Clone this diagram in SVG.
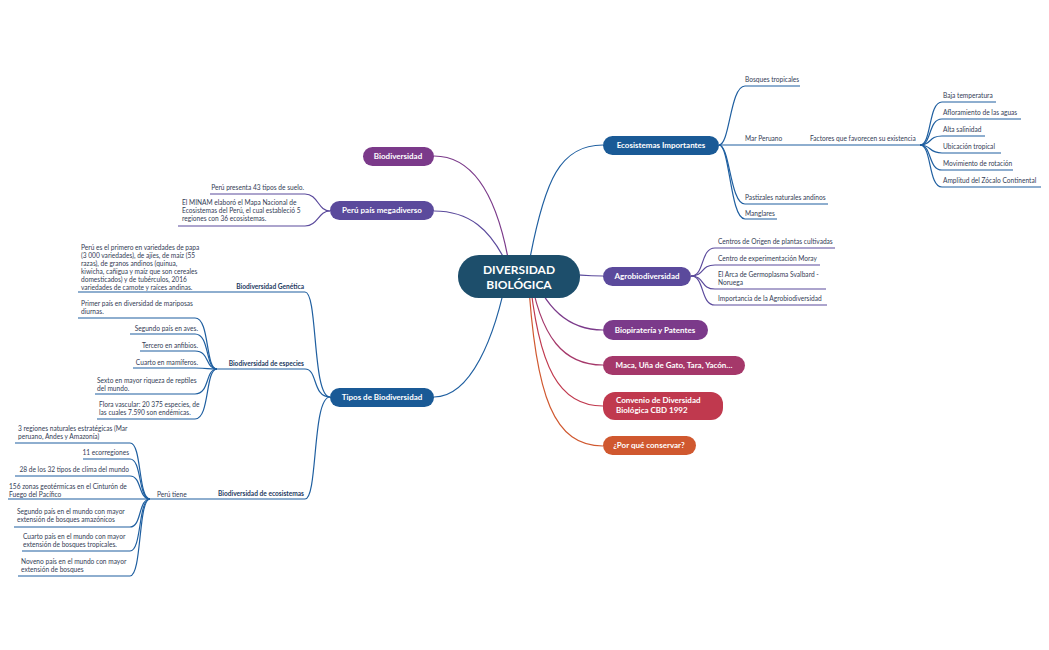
<svg xmlns="http://www.w3.org/2000/svg" width="1049" height="650" viewBox="0 0 1049 650">
<style>
text{font-family:Lato,"Open Sans","Liberation Sans",sans-serif}
.t{font-size:6.6px;fill:#333c55}
.b{font-size:6.6px;font-weight:bold;fill:#1d3a5f}
.n{font-size:8px;font-weight:bold;fill:#fff}
.c{fill:none;stroke-width:1.2}
.bl{stroke:#1f5fa0}.pu{stroke:#5b4a9c}.vi{stroke:#7b3a8a}.ma{stroke:#a5386a}.re{stroke:#c0394e}.or{stroke:#d0582f}
</style>
<rect width="1049" height="650" fill="#fff"/>
<g id="connectors">
<path class="c bl" d="M530,258 C545,180 560,145 603,145"/>
<path class="c pu" d="M530,262 C545,270 570,276 603,276"/>
<path class="c vi" d="M530,266 C545,310 570,330 603,330"/>
<path class="c ma" d="M529,268 C540,340 565,365 603,365"/>
<path class="c re" d="M529,270 C538,370 560,406 603,406"/>
<path class="c or" d="M528,272 C535,400 555,446 603,446"/>
<path class="c vi" d="M508,258 C495,190 470,156 434,156"/>
<path class="c pu" d="M506,262 C490,230 470,211 434,211"/>
<path class="c bl" d="M508,270 C495,340 470,397 434,397"/>
<!-- ecosistemas -->
<g class="c bl" stroke-width="0.9">
<path d="M719,145 C730,145 730,86 745,86 H800"/>
<path d="M719,145 H920"/>
<path d="M719,145 C730,145 730,204 745,204 H828"/>
<path d="M719,145 C730,145 730,219 745,219 H777"/>
<path d="M920,145 C932,145 928,102 942,102 H996"/>
<path d="M920,145 C932,145 928,119 942,119 H1021"/>
<path d="M920,145 C932,145 928,136 942,136 H985"/>
<path d="M920,145 C932,145 928,153 942,153 H1001"/>
<path d="M920,145 C932,145 928,170 942,170 H1013"/>
<path d="M920,145 C932,145 928,187 942,187 H1041"/>
</g>
<g class="c pu" stroke-width="0.9">
<path d="M691,276 C705,276 700,248 715,248 H835"/>
<path d="M691,276 C705,276 700,265 715,265 H820"/>
<path d="M691,276 C705,276 700,289 715,289 H826"/>
<path d="M691,276 C705,276 700,305 715,305 H827"/>
<path d="M330,211 C318,211 318,194 305,194 H210"/>
<path d="M330,211 C318,211 318,226 305,226 H178"/>
</g>
<g class="c bl" stroke-width="0.9">
<path d="M330,397 C312,397 318,292 305,292 H78"/>
<path d="M330,397 C312,397 318,369 305,369 H217"/>
<path d="M330,397 C312,397 318,499 305,499 H150"/>
<path d="M217,369 C205,369 210,318 195,318 H78"/>
<path d="M217,369 C205,369 210,334 195,334 H130"/>
<path d="M217,369 C205,369 210,351 195,351 H140"/>
<path d="M217,369 C205,369 210,368 195,368 H133"/>
<path d="M217,369 C205,369 210,394 195,394 H95"/>
<path d="M217,369 C205,369 210,419 195,419 H97"/>
<path d="M150,499 C138,499 142,443 130,443 H15"/>
<path d="M150,499 C138,499 142,459 130,459 H83"/>
<path d="M150,499 C138,499 142,476 130,476 H15"/>
<path d="M150,499 C138,499 142,499 130,499 H8"/>
<path d="M150,499 C138,499 142,527 130,527 H14"/>
<path d="M150,499 C138,499 142,551 130,551 H22"/>
<path d="M150,499 C138,499 142,576 130,576 H18"/>
</g>
</g>
<g id="center"><rect x="458" y="255" width="122" height="43" rx="21" fill="#1d4e6b"/><text x="519" y="274" text-anchor="middle" font-size="12" font-weight="bold" fill="#fff">DIVERSIDAD</text><text x="519" y="289" text-anchor="middle" font-size="12" font-weight="bold" fill="#fff">BIOLÓGICA</text></g>
<g id="n-eco"><rect x="603" y="136" width="116" height="19" rx="9.5" fill="#1a5a96"/><text class="n" x="661" y="148" text-anchor="middle">Ecosistemas Importantes</text></g>
<g id="n-agro"><rect x="603" y="267" width="88" height="19" rx="9.5" fill="#5b4a9c"/><text class="n" x="647" y="279" text-anchor="middle">Agrobiodiversidad</text></g>
<g id="n-bio"><rect x="603" y="320" width="105" height="20" rx="10" fill="#7b3a8a"/><text class="n" x="655" y="333" text-anchor="middle">Biopiratería y Patentes</text></g>
<g id="n-maca"><rect x="603" y="356" width="142" height="19" rx="9.5" fill="#a5386a"/><text class="n" x="674" y="368" text-anchor="middle">Maca, Uña de Gato, Tara, Yacón…</text></g>
<g id="n-conv"><rect x="603" y="392" width="120" height="28" rx="12" fill="#c0394e"/><text class="n" x="616" y="403">Convenio de Diversidad</text><text class="n" x="616" y="413">Biológica CBD 1992</text></g>
<g id="n-por"><rect x="603" y="436" width="93" height="19" rx="9.5" fill="#d0582f"/><text class="n" x="649" y="448" text-anchor="middle">¿Por qué conservar?</text></g>
<g id="n-biod"><rect x="363" y="147" width="71" height="19" rx="9.5" fill="#7b3a8a"/><text class="n" x="398" y="159" text-anchor="middle">Biodiversidad</text></g>
<g id="n-peru"><rect x="330" y="201" width="104" height="19" rx="9.5" fill="#5b4a9c"/><text class="n" x="382" y="213" text-anchor="middle">Perú país megadiverso</text></g>
<g id="n-tipos"><rect x="330" y="388" width="104" height="19" rx="9.5" fill="#1a5a96"/><text class="n" x="382" y="400" text-anchor="middle">Tipos de Biodiversidad</text></g>
<g id="labels">
<text class="t" x="745" y="82">Bosques tropicales</text>
<text class="t" x="745" y="141">Mar Peruano</text>
<text class="t" x="810" y="141">Factores que favorecen su existencia</text>
<text class="t" x="745" y="200">Pastizales naturales andinos</text>
<text class="t" x="745" y="216">Manglares</text>
<text class="t" x="943" y="98">Baja temperatura</text>
<text class="t" x="943" y="115">Afloramiento de las aguas</text>
<text class="t" x="943" y="132">Alta salinidad</text>
<text class="t" x="943" y="149">Ubicación tropical</text>
<text class="t" x="943" y="166">Movimiento de rotación</text>
<text class="t" x="943" y="183">Amplitud del Zócalo Continental</text>
<text class="t" x="718" y="244">Centros de Origen de plantas cultivadas</text>
<text class="t" x="718" y="261">Centro de experimentación Moray</text>
<text class="t" x="718" y="277">El Arca de Germoplasma Svalbard -</text>
<text class="t" x="718" y="285">Noruega</text>
<text class="t" x="718" y="301">Importancia de la Agrobiodiversidad</text>
<text class="t" x="304" y="190" text-anchor="end">Perú presenta 43 tipos de suelo.</text>
<text class="t" x="182" y="205">El MINAM elaboró el Mapa Nacional de</text>
<text class="t" x="182" y="213">Ecosistemas del Perú, el cual estableció 5</text>
<text class="t" x="182" y="221">regiones con 36 ecosistemas.</text>
<text class="t" x="81" y="250">Perú es el primero en variedades de papa</text>
<text class="t" x="81" y="258">(3 000 variedades), de ajíes, de maíz (55</text>
<text class="t" x="81" y="266">razas), de granos andinos (quinua,</text>
<text class="t" x="81" y="274">kiwicha, cañigua y maíz que son cereales</text>
<text class="t" x="81" y="282">domesticados) y de tubérculos, 2016</text>
<text class="t" x="81" y="290">variedades de camote y raíces andinas.</text>
<text class="b" x="304" y="289" text-anchor="end">Biodiversidad Genética</text>
<text class="t" x="81" y="306">Primer país en diversidad de mariposas</text>
<text class="t" x="81" y="314">diurnas.</text>
<text class="t" x="198" y="331" text-anchor="end">Segundo país en aves.</text>
<text class="t" x="198" y="348" text-anchor="end">Tercero en anfibios.</text>
<text class="t" x="198" y="365" text-anchor="end">Cuarto en mamíferos.</text>
<text class="b" x="304" y="366" text-anchor="end">Biodiversidad de especies</text>
<text class="t" x="97" y="383">Sexto en mayor riqueza de reptiles</text>
<text class="t" x="97" y="391">del mundo.</text>
<text class="t" x="99" y="407">Flora vascular: 20 375 especies, de</text>
<text class="t" x="99" y="415">las cuales 7.590 son endémicas.</text>
<text class="t" x="18" y="431">3 regiones naturales estratégicas (Mar</text>
<text class="t" x="18" y="439">peruano, Andes y Amazonía)</text>
<text class="t" x="129" y="455" text-anchor="end">11 ecorregiones</text>
<text class="t" x="129" y="472" text-anchor="end">28 de los 32 tipos de clima del mundo</text>
<text class="t" x="9" y="489">156 zonas geotérmicas en el Cinturón de</text>
<text class="t" x="9" y="497">Fuego del Pacífico</text>
<text class="t" x="157" y="497">Perú tiene</text>
<text class="b" x="304" y="496" text-anchor="end">Biodiversidad de ecosistemas</text>
<text class="t" x="17" y="514">Segundo país en el mundo con mayor</text>
<text class="t" x="17" y="522">extensión de bosques amazónicos</text>
<text class="t" x="23" y="539">Cuarto país en el mundo con mayor</text>
<text class="t" x="23" y="547">extensión de bosques tropicales.</text>
<text class="t" x="21" y="564">Noveno país en el mundo con mayor</text>
<text class="t" x="21" y="572">extensión de bosques</text>
</g>
</svg>
